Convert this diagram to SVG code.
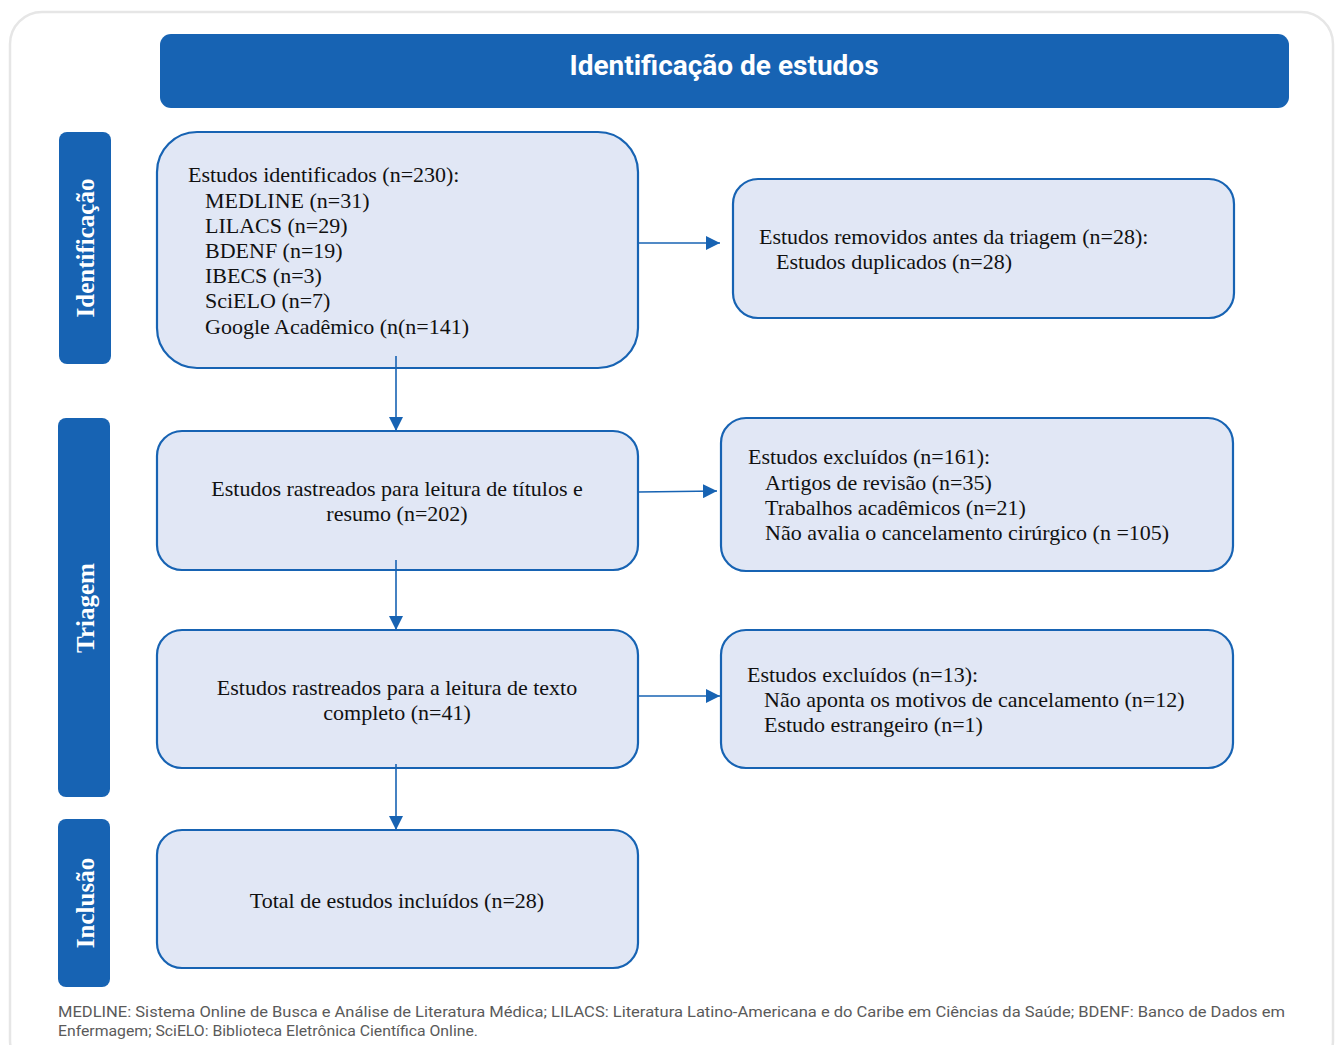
<svg xmlns="http://www.w3.org/2000/svg" width="1339" height="1045" viewBox="0 0 1339 1045">
<style>
.frame{fill:#ffffff;stroke:#e6e6e6;stroke-width:2.5}
.hdr{fill:#1763b3}
.side{fill:#1763b3}
.box{fill:#e1e7f5;stroke:#1763b3;stroke-width:2.2}
.t{font-family:"Liberation Serif","Times New Roman",serif;font-size:22px;fill:#111111}
.c{text-anchor:middle}
.sl{font-family:"Liberation Serif","Times New Roman",serif;font-size:25px;font-weight:bold;fill:#ffffff;text-anchor:middle}
.ht{font-family:Roboto,"Liberation Sans",Arial,sans-serif;font-size:28px;font-weight:bold;fill:#ffffff;text-anchor:middle}
.ft{font-family:Roboto,"Liberation Sans",Arial,sans-serif;font-size:14.5px;fill:#5a5a5a}
.ln{stroke:#1763b3;stroke-width:1.6;fill:none}
</style>
<defs>
<marker id="ah" viewBox="0 0 14 14" refX="14" refY="7" markerWidth="14" markerHeight="14" markerUnits="userSpaceOnUse" orient="auto">
<path d="M0,0 L14,7 L0,14 Z" fill="#1763b3"/>
</marker>
</defs>
<rect width="1339" height="1045" fill="#ffffff"/>
<rect class="frame" x="10" y="12" width="1323" height="1060" rx="32"/>

<g id="header">
<rect class="hdr" x="160" y="34" width="1129" height="74" rx="11"/>
<text class="ht" x="724" y="75">Identificação de estudos</text>
</g>

<g id="lane-identificacao">
<rect class="side" x="59" y="132" width="52" height="232" rx="8"/>
<text class="sl" transform="translate(94,248) rotate(-90)">Identificação</text>
</g>
<g id="lane-triagem">
<rect class="side" x="58" y="418" width="52" height="379" rx="8"/>
<text class="sl" transform="translate(94,608) rotate(-90)">Triagem</text>
</g>
<g id="lane-inclusao">
<rect class="side" x="58" y="819" width="52" height="168" rx="8"/>
<text class="sl" transform="translate(94,903) rotate(-90)">Inclusão</text>
</g>

<g id="identificados">
<rect class="box" x="157" y="132" width="481" height="236" rx="40"/>
<text class="t" x="188" y="182">Estudos identificados (n=230):</text>
<text class="t" x="205" y="208">MEDLINE (n=31)</text>
<text class="t" x="205" y="233">LILACS (n=29)</text>
<text class="t" x="205" y="258">BDENF (n=19)</text>
<text class="t" x="205" y="283">IBECS (n=3)</text>
<text class="t" x="205" y="308">SciELO (n=7)</text>
<text class="t" x="205" y="334">Google Acadêmico (n(n=141)</text>
</g>

<g id="removidos">
<rect class="box" x="733" y="179" width="501" height="139" rx="25"/>
<text class="t" x="759" y="244">Estudos removidos antes da triagem (n=28):</text>
<text class="t" x="776" y="269">Estudos duplicados (n=28)</text>
</g>

<g id="rastreados-titulos">
<rect class="box" x="157" y="431" width="481" height="139" rx="25"/>
<text class="t c" x="397" y="496">Estudos rastreados para leitura de títulos e</text>
<text class="t c" x="397" y="521">resumo (n=202)</text>
</g>

<g id="excluidos-161">
<rect class="box" x="721" y="418" width="512" height="153" rx="25"/>
<text class="t" x="748" y="464">Estudos excluídos (n=161):</text>
<text class="t" x="765" y="490">Artigos de revisão (n=35)</text>
<text class="t" x="765" y="515">Trabalhos acadêmicos (n=21)</text>
<text class="t" x="765" y="540">Não avalia o cancelamento cirúrgico (n =105)</text>
</g>

<g id="rastreados-texto">
<rect class="box" x="157" y="630" width="481" height="138" rx="25"/>
<text class="t c" x="397" y="695">Estudos rastreados para a leitura de texto</text>
<text class="t c" x="397" y="720">completo (n=41)</text>
</g>

<g id="excluidos-13">
<rect class="box" x="721" y="630" width="512" height="138" rx="25"/>
<text class="t" x="747" y="682">Estudos excluídos (n=13):</text>
<text class="t" x="764" y="707">Não aponta os motivos de cancelamento (n=12)</text>
<text class="t" x="764" y="732">Estudo estrangeiro (n=1)</text>
</g>

<g id="incluidos">
<rect class="box" x="157" y="830" width="481" height="138" rx="25"/>
<text class="t c" x="397" y="908">Total de estudos incluídos (n=28)</text>
</g>

<g id="connectors">
<line class="ln" x1="396" y1="356" x2="396" y2="431" marker-end="url(#ah)"/>
<line class="ln" x1="396" y1="560" x2="396" y2="630" marker-end="url(#ah)"/>
<line class="ln" x1="396" y1="764" x2="396" y2="830" marker-end="url(#ah)"/>
<line class="ln" x1="638" y1="243" x2="720" y2="243" marker-end="url(#ah)"/>
<line class="ln" x1="638" y1="492" x2="717" y2="491" marker-end="url(#ah)"/>
<line class="ln" x1="638" y1="696" x2="720" y2="696" marker-end="url(#ah)"/>
</g>

<g id="footer">
<text class="ft" x="58" y="1017" textLength="1227" lengthAdjust="spacingAndGlyphs">MEDLINE: Sistema Online de Busca e Análise de Literatura Médica; LILACS: Literatura Latino-Americana e do Caribe em Ciências da Saúde; BDENF: Banco de Dados em</text>
<text class="ft" x="58" y="1036" textLength="420" lengthAdjust="spacingAndGlyphs">Enfermagem; SciELO: Biblioteca Eletrônica Científica Online.</text>
</g>
</svg>
